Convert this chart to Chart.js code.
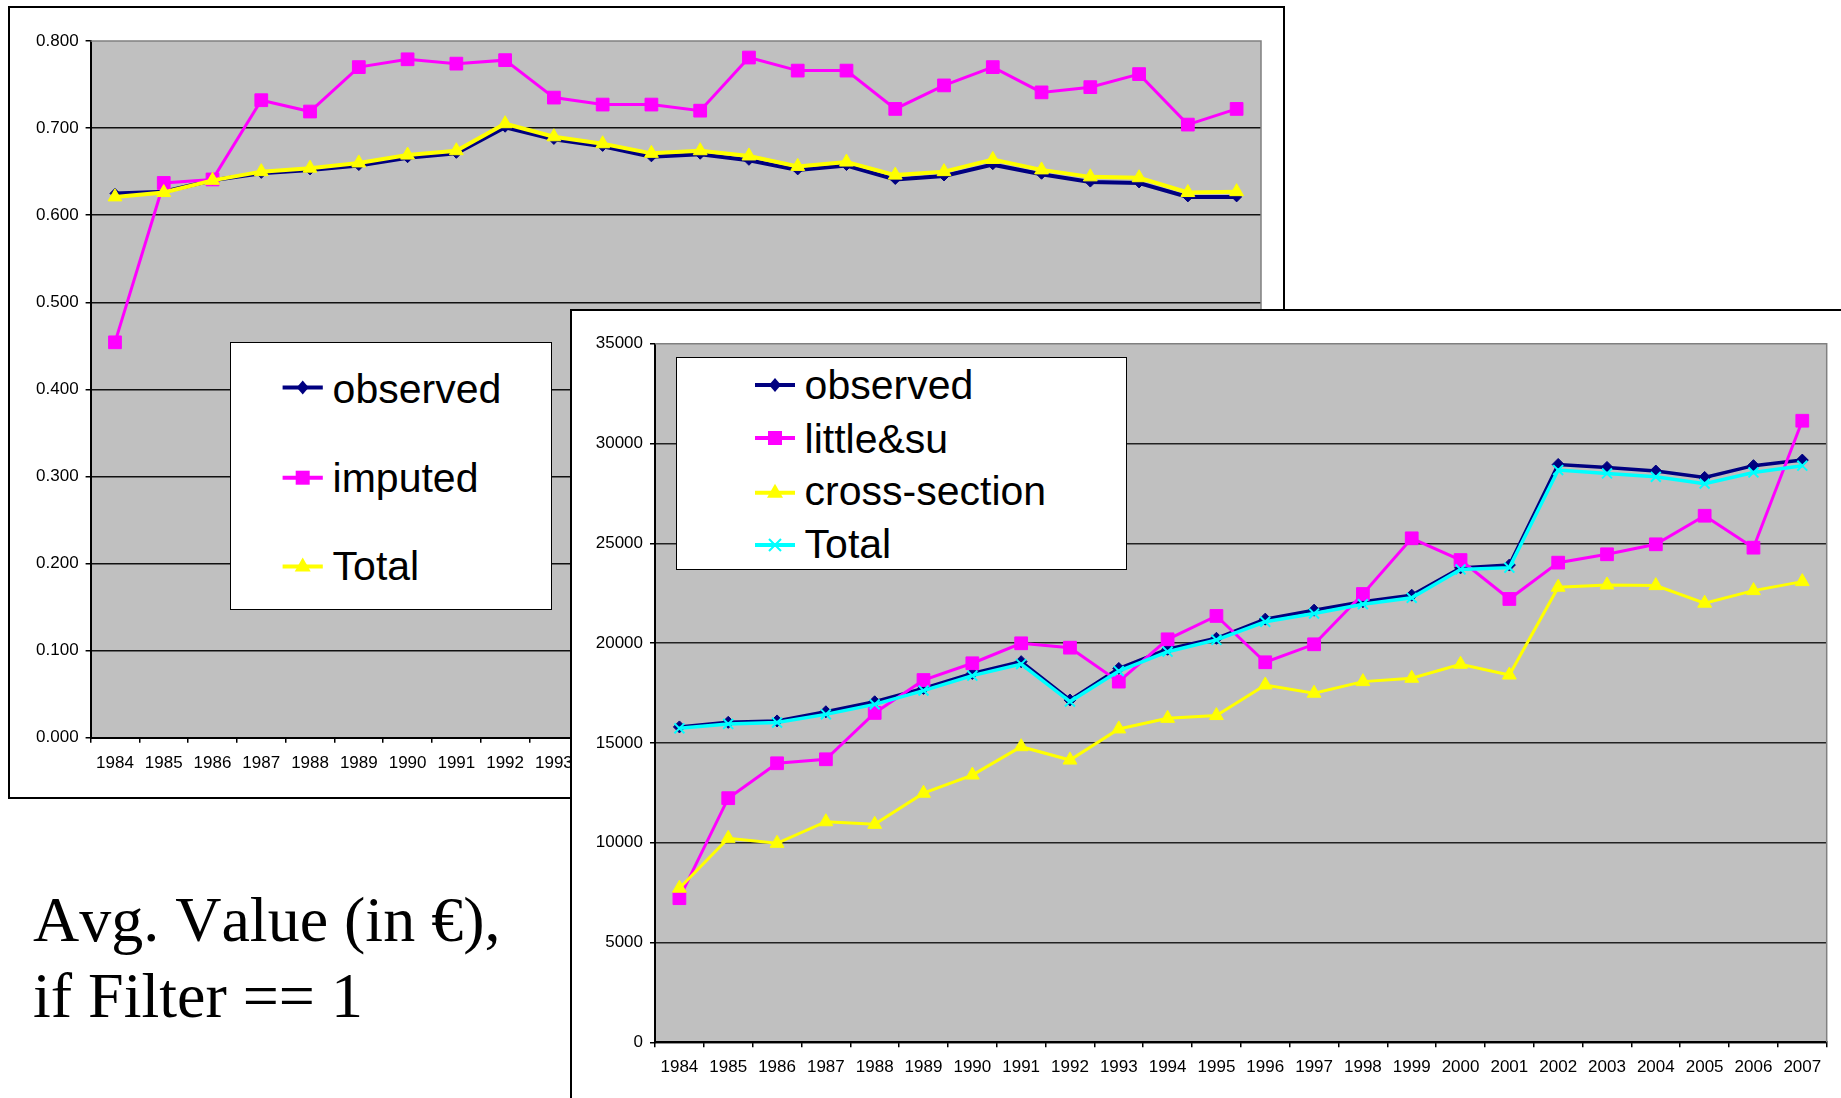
<!DOCTYPE html>
<html>
<head>
<meta charset="utf-8">
<script src="https://cdn.jsdelivr.net/npm/chart.js@4.4.0/dist/chart.umd.min.js"></script>
<title>observed / imputed</title>
<style>
  body { margin:0; width:1841px; height:1098px; overflow:hidden; position:relative; background:#fff; }
  #box1 { position:absolute; left:8px; top:6px; width:1277px; height:793px; border:2px solid #000; box-sizing:border-box; z-index:1; }
  #c1 { position:absolute; left:0; top:0; z-index:2; }
  #leg1 { position:absolute; left:230px; top:342px; z-index:3; }
  #cap { position:absolute; left:0; top:860px; z-index:3; }
  #cap text { font-family:'Liberation Serif','Times New Roman',serif; font-size:64px; font-kerning:none; }
  #box2 { position:absolute; left:570px; top:309px; width:1300px; height:830px; border:2px solid #000; box-sizing:border-box; background:#fff; z-index:4; overflow:hidden; }
  #c2 { position:absolute; left:0; top:0; }
  #leg2 { position:absolute; left:676px; top:357px; z-index:5; }
  svg.leg text { font-family:"Liberation Sans", Arial, sans-serif; }
</style>
</head>
<body>
<div id="box1"></div>
<canvas id="c1" width="1290" height="800"></canvas>
<svg id="leg1" class="leg" width="322" height="268"></svg>
<svg id="cap" width="570" height="238">
  <text x="33" y="81">Avg. Value (in €),</text>
  <text x="33" y="157">if Filter == 1</text>
</svg>
<div id="box2"><canvas id="c2" width="1300" height="800"></canvas></div>
<svg id="leg2" class="leg" width="451" height="213"></svg>

<script>
// categories
const years = ['1984','1985','1986','1987','1988','1989','1990','1991','1992','1993','1994','1995',
               '1996','1997','1998','1999','2000','2001','2002','2003','2004','2005','2006','2007'];

// back chart (shares)
const observed1 = [0.625,0.627,0.640,0.648,0.652,0.657,0.666,0.671,0.701,0.687,0.679,0.667,
                   0.670,0.663,0.652,0.657,0.641,0.645,0.658,0.647,0.638,0.637,0.621,0.621];
const imputed1  = [0.454,0.637,0.641,0.732,0.719,0.770,0.779,0.774,0.778,0.735,0.727,0.727,
                   0.720,0.781,0.766,0.766,0.722,0.749,0.770,0.741,0.747,0.762,0.704,0.722];
const total1    = [0.621,0.626,0.640,0.650,0.654,0.660,0.669,0.674,0.705,0.690,0.682,0.671,
                   0.674,0.668,0.656,0.661,0.646,0.650,0.664,0.652,0.644,0.643,0.626,0.627];

// front chart (avg value in euro)
const observed2 = [15800,16030,16100,16560,17060,17730,18480,19070,17150,18730,19690,20240,
                   21200,21650,22070,22400,23770,23910,28950,28800,28620,28300,28890,29170];
const little2   = [7220,12230,13980,14180,16500,18150,18990,19990,19770,18070,20190,21360,
                   19040,19940,22460,25250,24160,22210,24030,24450,24950,26380,24780,31140];
const cross2    = [7720,10220,9970,11050,10920,12480,13390,14810,14140,15700,16230,16370,
                   17900,17490,18070,18240,18940,18400,22800,22910,22880,22000,22630,23080];
const total2    = [15730,15950,16020,16430,16930,17620,18370,18950,17070,18600,19570,20160,
                   21070,21480,21950,22270,23690,23780,28670,28500,28330,27990,28550,28890];

const NAVY = '#000080', MAG = '#ff00ff', YEL = '#ffff00', CYAN = '#00ffff';

// grey plot area like excel
const plotBg = {
  id: 'plotBg',
  beforeDraw(chart) {
    const a = chart.chartArea, ctx = chart.ctx;
    ctx.save();
    ctx.fillStyle = '#c0c0c0';
    ctx.fillRect(a.left, a.top, a.right - a.left, a.bottom - a.top);
    ctx.restore();
  },
  beforeDatasetsDraw(chart) {
    const a = chart.chartArea, ctx = chart.ctx;
    ctx.save();
    ctx.strokeStyle = '#808080';
    ctx.lineWidth = 1.5;
    ctx.beginPath();
    ctx.moveTo(a.left, a.top);
    ctx.lineTo(a.right, a.top);
    ctx.lineTo(a.right, a.bottom);
    ctx.stroke();
    ctx.restore();
  }
};

function ds(label, data, color, style, radius, width, order) {
  return {
    label: label, data: data, order: order,
    borderColor: color, backgroundColor: color,
    borderWidth: width,
    pointStyle: style, pointRadius: radius,
    pointBackgroundColor: color, pointBorderColor: color,
    pointBorderWidth: style === 'crossRot' ? 2 : 1,
    tension: 0
  };
}

function makeChart(id, datasets, yMax, yStep, fmt, pad, yW, xH, gridCol) {
  const font = { family: '"Liberation Sans", Arial, sans-serif', size: 17 };
  return new Chart(document.getElementById(id), {
    type: 'line',
    data: { labels: years, datasets: datasets },
    plugins: [plotBg],
    options: {
      responsive: false,
      animation: false,
      events: [],
      layout: { padding: pad },
      plugins: { legend: { display: false }, tooltip: { enabled: false } },
      scales: {
        x: {
          offset: true,
          grid: { offset: true, drawOnChartArea: false, drawTicks: true, tickLength: 5, color: '#000', lineWidth: 1.5 },
          border: { color: '#000', width: 2 },
          ticks: { font: font, color: '#000', padding: 10, autoSkip: false, maxRotation: 0 },
          afterFit(s) { s.height = xH; }
        },
        y: {
          min: 0, max: yMax,
          grid: {
            color: c => (c.tick && c.tick.value >= yMax - 1e-9) ? 'rgba(0,0,0,0)' : gridCol,
            tickColor: '#000', lineWidth: 1.5, tickLength: 5
          },
          border: { color: '#000', width: 2 },
          ticks: { stepSize: yStep, font: font, color: '#000', padding: 7, callback: fmt },
          afterFit(s) { s.width = yW; }
        }
      }
    }
  });
}

makeChart('c1', [
  ds('observed', observed1, NAVY, 'rectRot', 5, 4, 3),
  ds('imputed', imputed1, MAG, 'rect', 9, 3, 2),
  ds('Total', total1, YEL, 'triangle', 8, 4, 1)
], 0.8, 0.1, v => Number(v).toFixed(3), { top: 41, right: 29, left: 0, bottom: 0 }, 90.6, 62.3, '#111');

makeChart('c2', [
  ds('observed', observed2, NAVY, 'rectRot', 6, 3.5, 4),
  ds('little&su', little2, MAG, 'rect', 9, 3, 3),
  ds('cross-section', cross2, YEL, 'triangle', 8, 3, 2),
  ds('Total', total2, CYAN, 'crossRot', 7, 3.5, 1)
], 35000, 5000, v => String(v), { top: 32.7, right: 45.3, left: 0, bottom: 0 }, 83, 68.7, '#222');

// legends (svg, real text)
function marker(style, color, x, y) {
  if (style === 'rectRot') return `<polygon points="${x},${y-7} ${x+6},${y} ${x},${y+7} ${x-6},${y}" fill="${color}"/>`;
  if (style === 'rect') return `<rect x="${x-7}" y="${y-7}" width="14" height="14" fill="${color}"/>`;
  if (style === 'triangle') return `<polygon points="${x},${y-9} ${x+8},${y+5} ${x-8},${y+5}" fill="${color}"/>`;
  return `<path d="M${x-6} ${y-6}L${x+6} ${y+6}M${x+6} ${y-6}L${x-6} ${y+6}" stroke="${color}" stroke-width="2"/>`;
}
function legend(id, w, h, items, x0, x1, tx, baselines, marks) {
  let s = `<rect x="0.5" y="0.5" width="${w-1}" height="${h-1}" fill="#fff" stroke="#000" stroke-width="1"/>`;
  items.forEach((it, i) => {
    const y = marks[i], xm = (x0 + x1) / 2;
    s += `<line x1="${x0}" y1="${y}" x2="${x1}" y2="${y}" stroke="${it[1]}" stroke-width="4"/>`;
    s += marker(it[2], it[1], xm, y);
    s += `<text x="${tx}" y="${baselines[i]}" font-size="41" fill="#000">${it[0]}</text>`;
  });
  document.getElementById(id).innerHTML = s;
}
legend('leg1', 322, 268,
  [['observed', NAVY, 'rectRot'], ['imputed', MAG, 'rect'], ['Total', YEL, 'triangle']],
  52.6, 92.8, 102.6, [61.4, 149.7, 238], [45.5, 135.7, 224.5]);
legend('leg2', 451, 213,
  [['observed', NAVY, 'rectRot'], ['little&amp;su', MAG, 'rect'], ['cross-section', YEL, 'triangle'], ['Total', CYAN, 'crossRot']],
  79, 119, 128.6, [42.3, 95.7, 148, 201.3], [28, 81, 135.7, 188]);
</script>
</body>
</html>
